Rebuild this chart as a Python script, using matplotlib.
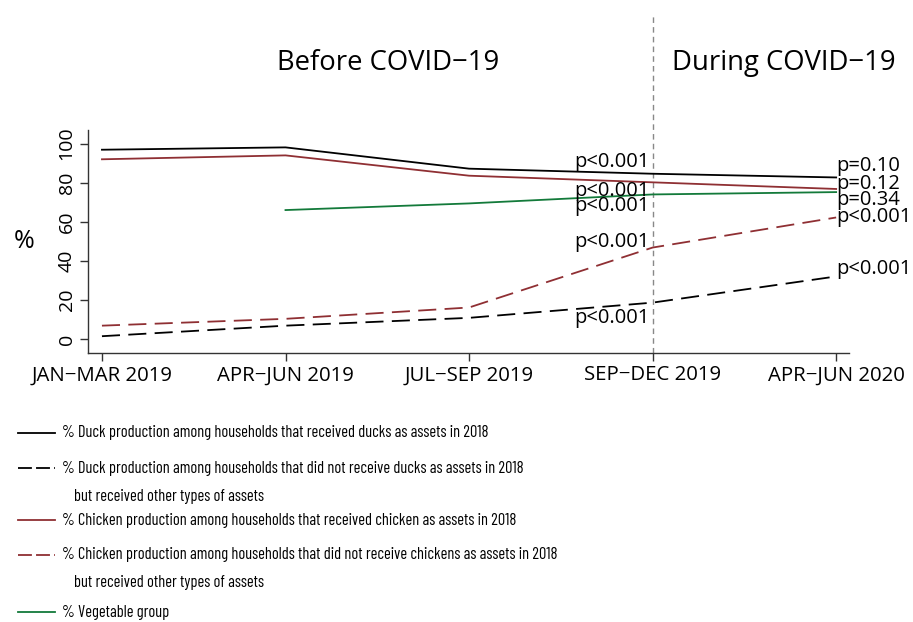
import matplotlib
matplotlib.use("Agg")
import matplotlib.pyplot as plt
from matplotlib.lines import Line2D
import numpy as np
import logging
logging.getLogger('matplotlib.font_manager').setLevel(logging.ERROR)

MAINFONT = ['Open Sans', 'DejaVu Sans']
plt.rcParams['font.family'] = MAINFONT
plt.rcParams['lines.scale_dashes'] = False

periods = ["JAN\u2212MAR 2019", "APR\u2212JUN 2019", "JUL\u2212SEP 2019", "SEP\u2212DEC 2019", "APR\u2212JUN 2020"]
duck_recv = [96.9, 98.1, 87.2, 84.6, 82.7]
duck_other = [1.4, 6.8, 10.8, 18.6, 32.0]
chick_recv = [92.0, 94.0, 83.6, 80.2, 76.8]
chick_other = [6.8, 10.3, 16.1, 46.8, 62.2]
veg = [np.nan, 66.0, 69.4, 74.0, 75.2]

p_mid = ["p<0.001", "p<0.001", "p<0.001", "p<0.001", "p<0.001"]
p_mid_y = [90.8, 75.9, 68.2, 49.7, 10.8]
p_end = ["p=0.10", "p=0.12", "p=0.34", "p<0.001", "p<0.001"]
p_end_y = [88.7, 79.5, 71.3, 62.6, 35.9]

legend_labels = [
    "% Duck production among households that received ducks as assets in 2018",
    "% Duck production among households that did not receive ducks as assets in 2018",
    "% Chicken production among households that received chicken as assets in 2018",
    "% Chicken production among households that did not receive chickens as assets in 2018",
    "% Vegetable group",
]
legend_second = "but received other types of assets"

BLACK = "#000000"
RED = "#8f2f33"
GREEN = "#137a3a"
DASH = (0, (13, 6))

W, H = 913, 622
fig = plt.figure(figsize=(W / 100, H / 100), dpi=100)
ax = fig.add_axes([88 / W, 1 - 353 / H, (849 - 88) / W, (353 - 130) / H])

x = np.arange(len(periods))
lw = 1.3
ax.plot(x, duck_recv, color=BLACK, lw=lw)
ax.plot(x, duck_other, color=BLACK, lw=lw, ls=DASH)
ax.plot(x, chick_recv, color=RED, lw=lw)
ax.plot(x, chick_other, color=RED, lw=lw, ls=DASH)
ax.plot(x, veg, color=GREEN, lw=lw)

ax.set_xlim(-0.076, 4.07)
ax.set_ylim(-7.2, 107)
ax.set_xticks(x)
ax.set_xticklabels(periods, fontsize=14.7)
ax.set_yticks([0, 20, 40, 60, 80, 100])
ax.set_yticklabels(["0", "20", "40", "60", "80", "100"], fontsize=14, rotation=90, va='center')
ax.tick_params(direction='out', length=6, width=1, color='#333333')
ax.tick_params(axis='x', pad=3)
ax.tick_params(axis='y', pad=3)
for s in ['top', 'right']:
    ax.spines[s].set_visible(False)
for s in ['left', 'bottom']:
    ax.spines[s].set_color('#333333')
    ax.spines[s].set_linewidth(1)
ax.set_ylabel("%", rotation=0, fontsize=18, labelpad=24, va='center')

# vertical COVID line
ax.axvline(3, ymin=0, ymax=(353 - 15) / (353 - 130), color='#888888', lw=1,
           ls=(0, (4, 3)), clip_on=False, zorder=0)

for t, yv in zip(p_mid, p_mid_y):
    ax.text(2.985, yv, t, ha='right', va='center', fontsize=14.5)
for t, yv in zip(p_end, p_end_y):
    ax.text(4.0, yv, t, ha='left', va='center', fontsize=14.5)

fig.text(388 / W, 1 - 63 / H, "Before COVID\u221219", ha='center', va='center', fontsize=19.8)
fig.text(784 / W, 1 - 63 / H, "During COVID\u221219", ha='center', va='center', fontsize=19.8)

# legend (manual)
styles = [(BLACK, '-'), (BLACK, DASH), (RED, '-'), (RED, DASH), (GREEN, '-')]
rows = [433, 468, 520, 555, 612]
lfont = ['Barlow Condensed', 'Roboto Condensed', 'DejaVu Sans']
LFS = 11.8
for (c, ls), yy, lab in zip(styles, rows, legend_labels):
    fig.add_artist(Line2D([18 / W, 55 / W], [1 - yy / H, 1 - yy / H], color=c, lw=lw,
                          ls=(0, (10, 3)) if ls != '-' else '-', transform=fig.transFigure))
    fig.text(62 / W, 1 - yy / H, lab, ha='left', va='center', fontsize=LFS,
             family=lfont, fontweight='normal')
for yy in [496, 582]:
    fig.text(74 / W, 1 - yy / H, legend_second, ha='left', va='center', fontsize=LFS,
             family=lfont, fontweight='normal')

fig.savefig("out.png", dpi=100)
